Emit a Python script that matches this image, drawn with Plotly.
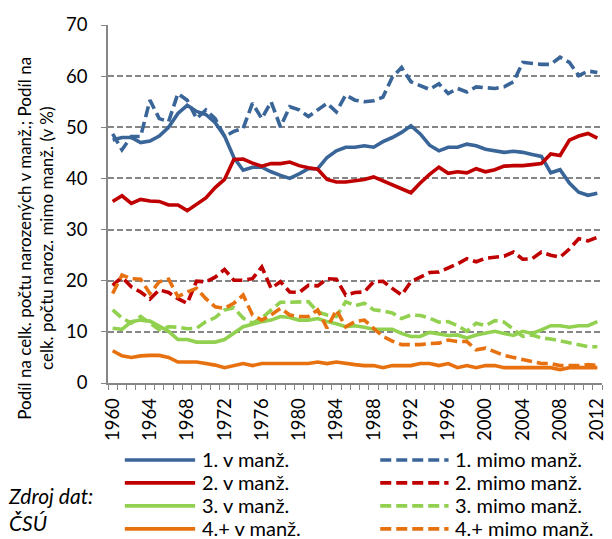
"""Podíl narozených podle pořadí a rodinného stavu matky, 1960-2012."""

import plotly.graph_objects as go

years = list(range(1960, 2013))

first_in = [
    47.5, 48.0, 48.0, 47.0, 47.3, 48.3, 50.0, 52.7, 54.3, 53.1,
    52.5, 50.9, 48.3, 44.1, 41.6, 42.2, 42.2, 41.3, 40.6, 40.0,
    40.9, 41.9, 41.9, 44.1, 45.4, 46.1, 46.1, 46.4, 46.1, 47.2,
    48.0, 49.0, 50.3, 48.7, 46.5, 45.4, 46.1, 46.1, 46.7, 46.4,
    45.7, 45.4, 45.1, 45.3, 45.1, 44.7, 44.3, 41.1, 41.7, 39.1,
    37.3, 36.7, 37.1,
]
first_out = [
    48.7, 45.6, 48.2, 48.2, 55.3, 51.7, 51.1, 56.6, 55.3, 51.7,
    53.4, 51.7, 48.2, 49.2, 49.8, 54.7, 51.7, 55.0, 50.1, 54.0,
    53.4, 52.1, 53.4, 54.7, 53.0, 56.3, 55.3, 55.0, 55.2, 55.9,
    59.8, 61.7, 58.9, 58.2, 57.4, 58.5, 56.6, 57.6, 56.9, 57.9,
    57.8, 57.6, 57.9, 58.9, 62.7, 62.5, 62.3, 62.3, 63.7, 62.7,
    60.1, 61.0, 60.7,
]
second_in = [
    35.5, 36.6, 35.1, 35.9, 35.6, 35.5, 34.8, 34.8, 33.7, 34.9,
    36.2, 38.2, 39.8, 43.7, 43.8, 43.0, 42.4, 42.9, 42.9, 43.2,
    42.5, 42.1, 41.8, 39.8, 39.3, 39.3, 39.5, 39.8, 40.3, 39.5,
    38.8, 38.0, 37.2, 39.1, 40.8, 42.2, 41.0, 41.3, 41.1, 41.9,
    41.3, 41.7, 42.4, 42.5, 42.5, 42.7, 42.9, 44.8, 44.5, 47.5,
    48.3, 48.8, 47.9,
]
second_out = [
    19.1, 20.7, 18.8, 17.8, 16.4, 18.2, 17.7, 16.5, 15.6, 19.9,
    19.8, 20.7, 22.2, 20.1, 20.1, 20.4, 22.7, 18.5, 19.8, 17.8,
    17.7, 19.1, 19.0, 20.4, 20.3, 17.2, 17.7, 17.8, 19.8, 19.9,
    18.5, 17.2, 19.8, 20.7, 21.6, 21.7, 22.5, 23.3, 24.3, 23.7,
    24.4, 24.6, 24.8, 25.6, 24.2, 24.3, 25.6, 25.0, 24.6, 26.2,
    28.2, 27.8, 28.5,
]
third_in = [
    10.7, 10.5, 12.0, 12.3, 12.1, 11.0, 10.1, 8.5, 8.5, 8.0,
    8.0, 8.0, 8.5, 9.7, 11.0, 11.5, 12.0, 12.3, 13.0, 12.8,
    12.3, 12.3, 12.6, 12.0, 11.6, 11.0, 11.2, 10.9, 10.5, 10.5,
    10.5, 9.7, 9.1, 9.1, 9.9, 9.6, 9.3, 9.4, 8.8, 9.4,
    9.7, 10.1, 9.7, 9.3, 10.1, 9.7, 10.4, 11.2, 11.2, 10.9,
    11.2, 11.2, 12.0,
]
third_out = [
    14.3, 12.7, 11.7, 13.0, 11.7, 10.4, 11.0, 10.9, 10.6, 10.7,
    12.0, 12.8, 14.3, 14.7, 12.7, 11.7, 12.7, 14.3, 15.8, 15.8,
    15.8, 15.9, 13.9, 13.3, 13.0, 15.9, 15.1, 15.6, 14.3, 14.1,
    13.7, 12.6, 13.3, 13.2, 12.7, 11.9, 12.0, 11.2, 10.1, 11.7,
    11.2, 12.2, 11.9, 10.4, 9.1, 9.4, 8.8, 8.6, 8.2, 7.8,
    7.5, 7.1, 7.1,
]
fourth_in = [
    6.3, 5.3, 5.0, 5.3, 5.4, 5.4, 5.0, 4.1, 4.1, 4.1,
    3.8, 3.5, 3.0, 3.4, 3.8, 3.4, 3.8, 3.8, 3.8, 3.8,
    3.8, 3.8, 4.1, 3.8, 4.1, 3.8, 3.6, 3.4, 3.4, 3.0,
    3.4, 3.4, 3.4, 3.8, 3.8, 3.4, 3.8, 3.0, 3.4, 3.0,
    3.4, 3.4, 3.0, 3.0, 3.0, 3.0, 3.0, 3.0, 2.6, 3.0,
    3.0, 3.0, 3.0,
]
fourth_out = [
    17.5, 21.1, 20.4, 20.3, 17.5, 19.8, 20.3, 16.9, 17.8, 18.5,
    16.5, 14.9, 14.6, 15.6, 17.2, 13.3, 12.3, 13.3, 14.6, 13.3,
    13.0, 13.0, 14.3, 10.7, 14.3, 11.0, 12.0, 12.3, 10.7, 9.1,
    8.2, 7.5, 7.5, 7.5, 7.7, 7.8, 8.4, 8.1, 8.1, 6.5,
    6.8, 6.1, 5.4, 5.0, 4.6, 4.1, 3.8, 3.8, 3.4, 3.4,
    3.4, 3.6, 3.4,
]

# name, values, colour, dashed
SERIES = [
    ("1. v manž.", first_in, "#3A6598", False),
    ("1. mimo manž.", first_out, "#3A6598", True),
    ("2. v manž.", second_in, "#C00000", False),
    ("2. mimo manž.", second_out, "#C00000", True),
    ("3. v manž.", third_in, "#92D050", False),
    ("3. mimo manž.", third_out, "#92D050", True),
    ("4.+ v manž.", fourth_in, "#E8710F", False),
    ("4.+ mimo manž.", fourth_out, "#E8710F", True),
]

# the page body has an 8px margin, so the figure is a bit smaller than the window
PAGE = 8
W, H = 612 - PAGE, 539 - PAGE
# plot area in page pixels: x 108..607, y 20..383
L, R, T, B = 108 - PAGE, 5, 20 - PAGE, H - (383 - PAGE)
FONT = "Lato, Carlito, Calibri, Arial, sans-serif"
GREY = "#868686"
DASH = "11px,5px"
LINE_W = 3.6


def px_x(px: float) -> float:
    """Page x pixel -> paper x."""
    return (px - PAGE - L) / (W - L - R)


def px_y(py: float) -> float:
    """Page y pixel -> paper y."""
    return (H - B - (py - PAGE)) / (H - T - B)


fig = go.Figure()
for name, values, color, dashed in SERIES:
    fig.add_trace(
        go.Scatter(
            x=years,
            y=values,
            name=name,
            mode="lines",
            line={"color": color, "width": LINE_W, "dash": DASH if dashed else "solid"},
            showlegend=False,
        )
    )

# hand-made legend, two columns like the original
for idx, (name, _, color, dashed) in enumerate(SERIES):
    row, col = idx // 2, idx % 2
    y = px_y(461 + row * 23.3)
    x0, x1, xt = (125, 196, 201) if col == 0 else (383, 452, 456)
    fig.add_shape(
        type="line", xref="paper", yref="paper",
        x0=px_x(x0), x1=px_x(x1), y0=y, y1=y,
        line={"color": color, "width": LINE_W, "dash": DASH if dashed else "solid"},
    )
    fig.add_annotation(
        xref="paper", yref="paper", x=px_x(xt), y=y + 0.003, text=name,
        xanchor="left", yanchor="middle", showarrow=False,
        font={"family": FONT, "size": 20, "color": "#000"},
    )

fig.add_annotation(
    xref="paper", yref="paper", x=px_x(34), y=px_y(236),
    text="Podíl na celk. počtu narozených v manž.; Podíl na<br>celk. počtu naroz. mimo manž. (v %)",
    textangle=-90, showarrow=False, xanchor="center", yanchor="middle",
    font={"family": FONT, "size": 17, "color": "#000"},
)
fig.add_annotation(
    xref="paper", yref="paper", x=px_x(5), y=px_y(511),
    text="<i>Zdroj dat:<br>ČSÚ</i>", align="left",
    showarrow=False, xanchor="left", yanchor="middle",
    font={"family": FONT, "size": 21, "color": "#000"},
)

fig.update_layout(
    width=W,
    height=H,
    margin={"l": L, "r": R, "t": T, "b": B},
    paper_bgcolor="white",
    plot_bgcolor="white",
    font={"family": FONT, "size": 16, "color": "#000"},
    showlegend=False,
)
fig.update_xaxes(
    range=[1959.5, 2012.5],
    tick0=1960,
    dtick=4,
    tickangle=-90,
    ticks="",
    showgrid=False,
    showline=True,
    linecolor=GREY,
    linewidth=1.5,
    tickfont={"size": 18.5},
    ticklabelstandoff=6,
    ticklabeloverflow="allow",
    minor={"tick0": 1959.5, "dtick": 1, "ticks": "outside", "ticklen": 5, "tickcolor": GREY, "tickwidth": 1.2},
)
fig.update_yaxes(
    range=[0, 70],
    dtick=10,
    ticks="outside",
    ticklen=5,
    tickcolor=GREY,
    showline=True,
    linecolor=GREY,
    linewidth=1.5,
    showgrid=True,
    gridcolor=GREY,
    gridwidth=1.5,
    griddash="6px,3px",
    zeroline=False,
    tickfont={"size": 18.5},
    ticklabelstandoff=10,
)

fig.write_html("out.html")
